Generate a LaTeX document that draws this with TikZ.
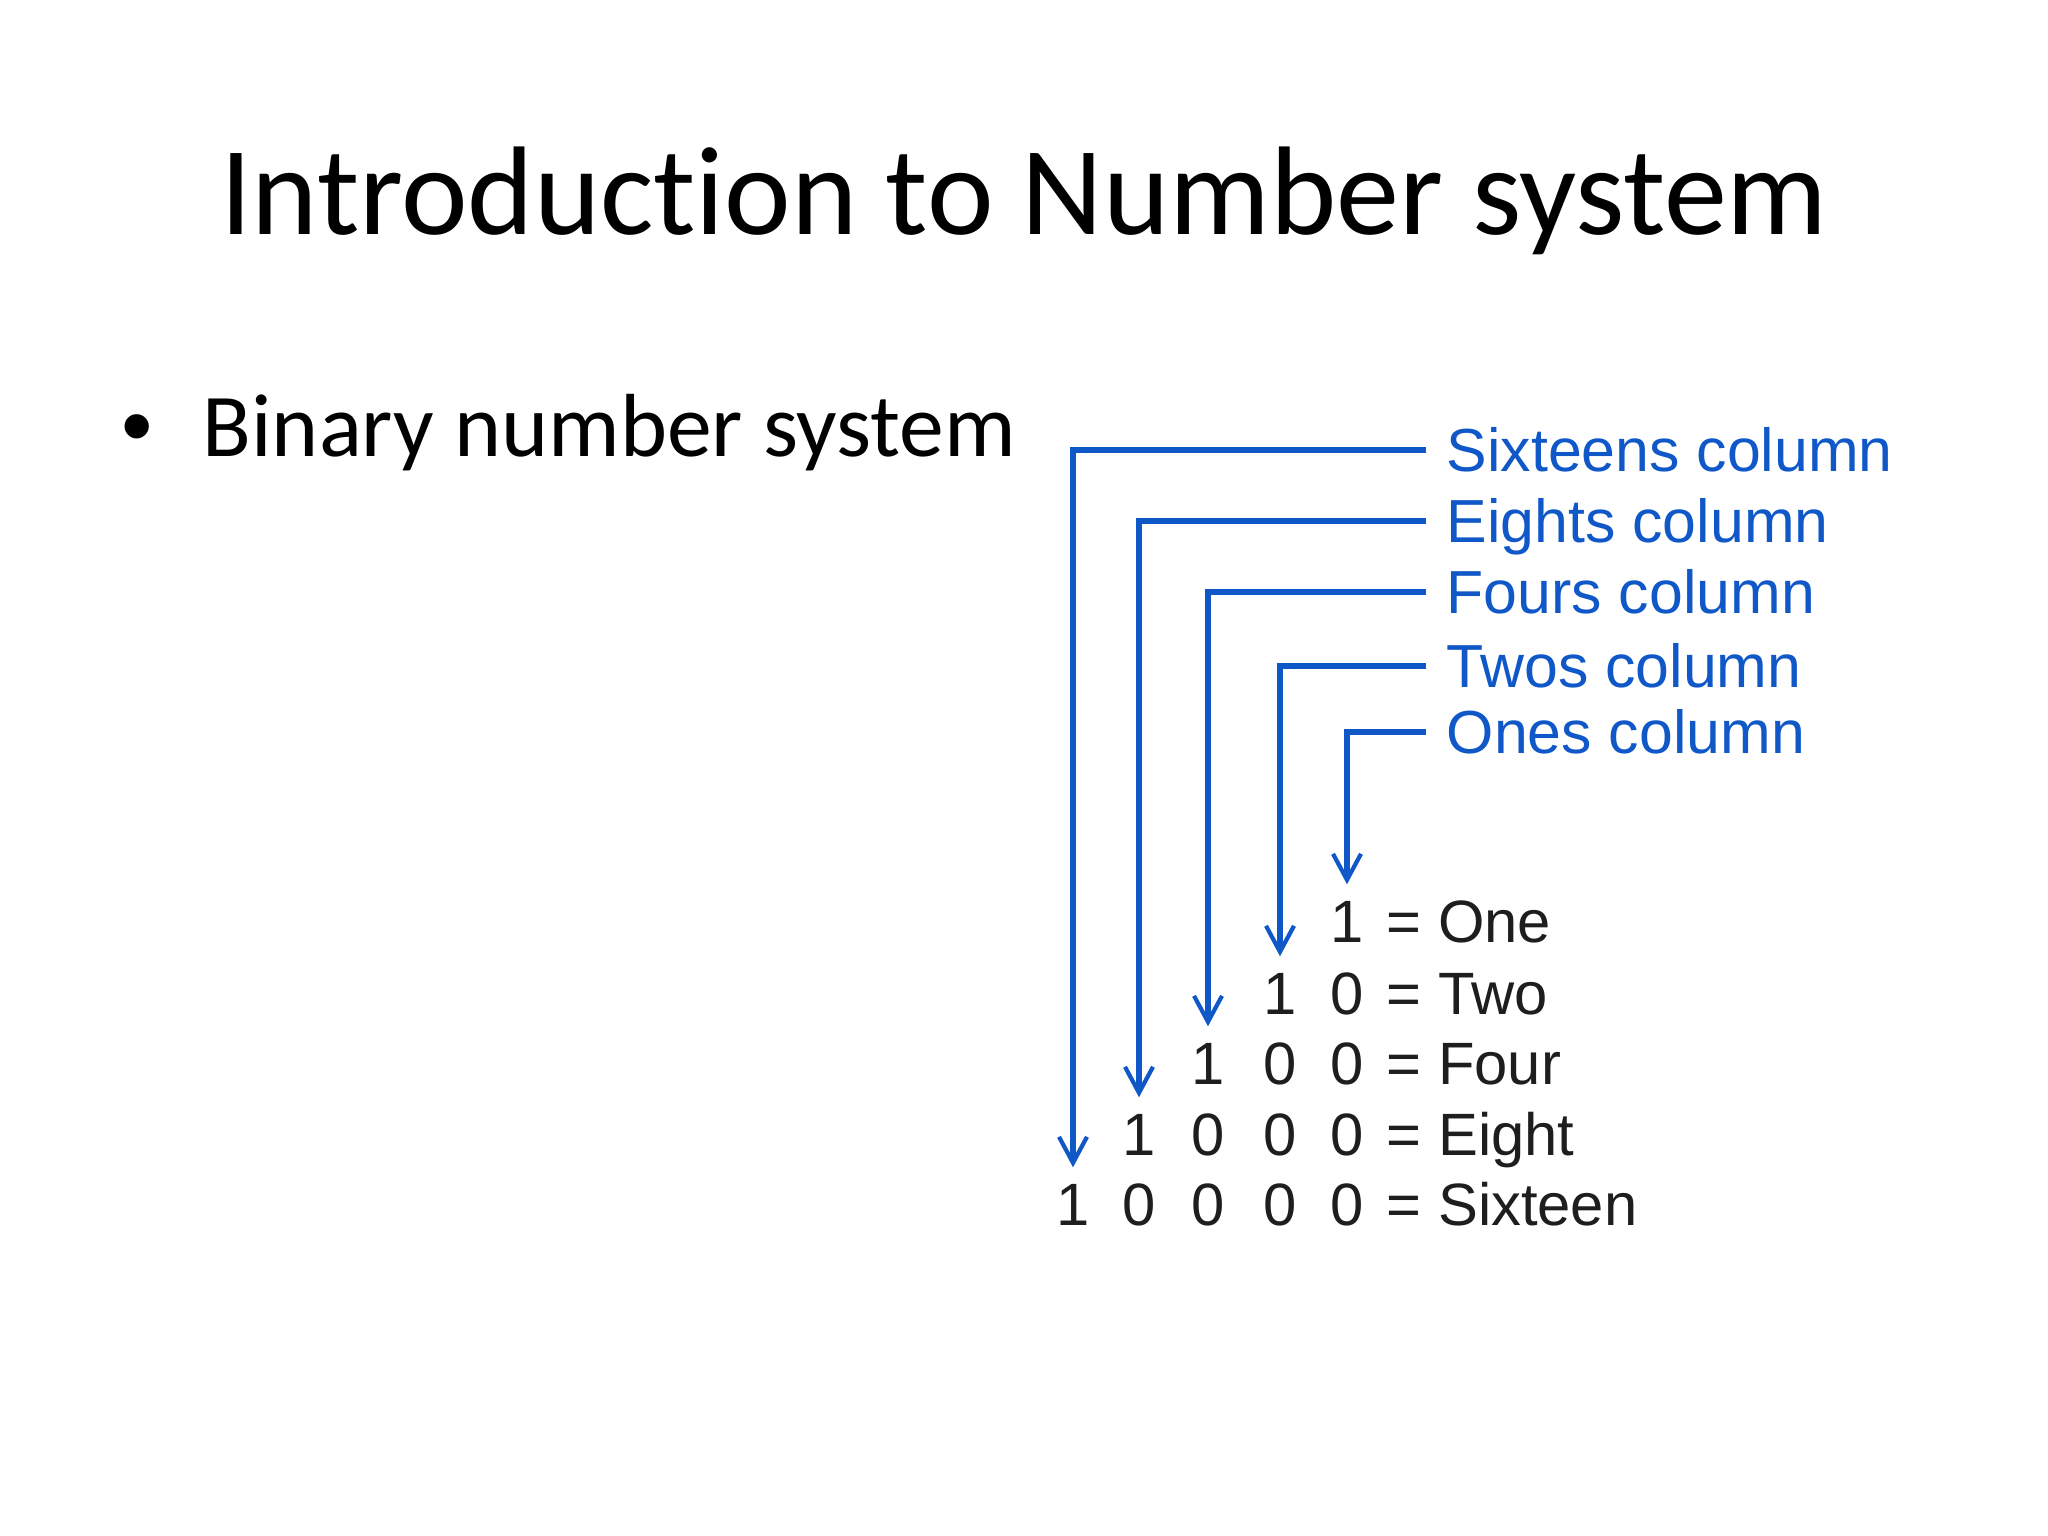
\documentclass[tikz,border=0pt]{standalone}
\usepackage{fontspec}
\setmainfont[Ligatures=NoCommon]{Carlito}
\newfontfamily\arialfont{Liberation Sans}
\usetikzlibrary{arrows.meta}
\definecolor{colblue}{RGB}{16,88,200}
\definecolor{digitgray}{RGB}{30,30,30}
\tikzset{
  titletext/.style={font=\fontsize{35.9pt}{42pt}\selectfont, anchor=base, inner sep=0pt},
  bullettext/.style={font=\fontsize{25.5pt}{30pt}\selectfont, anchor=base west, inner sep=0pt},
  bulletdot/.style={font=\arialfont\fontsize{25.5pt}{30pt}\selectfont, anchor=base, inner sep=0pt},
  collabel/.style={font=\arialfont\fontsize{17.3pt}{20pt}\selectfont, text=colblue, anchor=west,
    inner xsep=2mm, inner ysep=0pt, text height=0.44cm, text depth=0pt},
  digit/.style={font=\arialfont\fontsize{17pt}{20pt}\selectfont, text=digitgray, anchor=base,
    inner sep=0pt, text height=0.43cm, text depth=0pt},
  eqword/.style={digit, anchor=base west},
  colline/.style={line width=1.7pt, draw=colblue, line join=miter, shorten >=1.5mm,
    -{Straight Barb[length=2.6mm, width=2.8mm, line width=1.2pt]}},
}
\begin{document}
\begin{tikzpicture}
\useasboundingbox (0,0) rectangle (20.48,15.36);
\node[titletext] (title) at (10.24,13.01) {Introduction to Number system};
\node[bulletdot] (dot) at (1.37,10.79) {•};
\node[bullettext] (binary) at (2.02,10.79) {Binary number system};

\node[collabel] (lab16) at (14.26,10.86) {Sixteens column};
\node[collabel] (lab8) at (14.26,10.15) {Eights column};
\node[collabel] (lab4) at (14.26,9.44) {Fours column};
\node[collabel] (lab2) at (14.26,8.70) {Twos column};
\node[collabel] (lab1) at (14.26,8.04) {Ones column};

\node[digit] (r1c5) at (13.47,5.93) {1};
\node[eqword] (r1eq) at (13.86,5.93) {= One};

\node[digit] (r2c4) at (12.80,5.21) {1};
\node[digit] (r2c5) at (13.47,5.21) {0};
\node[eqword] (r2eq) at (13.86,5.21) {= Two};

\node[digit] (r3c3) at (12.08,4.51) {1};
\node[digit] (r3c4) at (12.80,4.51) {0};
\node[digit] (r3c5) at (13.47,4.51) {0};
\node[eqword] (r3eq) at (13.86,4.51) {= Four};

\node[digit] (r4c2) at (11.39,3.80) {1};
\node[digit] (r4c3) at (12.08,3.80) {0};
\node[digit] (r4c4) at (12.80,3.80) {0};
\node[digit] (r4c5) at (13.47,3.80) {0};
\node[eqword] (r4eq) at (13.86,3.80) {= Eight};

\node[digit] (r5c1) at (10.73,3.10) {1};
\node[digit] (r5c2) at (11.39,3.10) {0};
\node[digit] (r5c3) at (12.08,3.10) {0};
\node[digit] (r5c4) at (12.80,3.10) {0};
\node[digit] (r5c5) at (13.47,3.10) {0};
\node[eqword] (r5eq) at (13.86,3.10) {= Sixteen};

\draw[colline] (lab16.west) -| (r5c1.north);
\draw[colline] (lab8.west) -| (r4c2.north);
\draw[colline] (lab4.west) -| (r3c3.north);
\draw[colline] (lab2.west) -| (r2c4.north);
\draw[colline] (lab1.west) -| (r1c5.north);
\end{tikzpicture}
\end{document}
